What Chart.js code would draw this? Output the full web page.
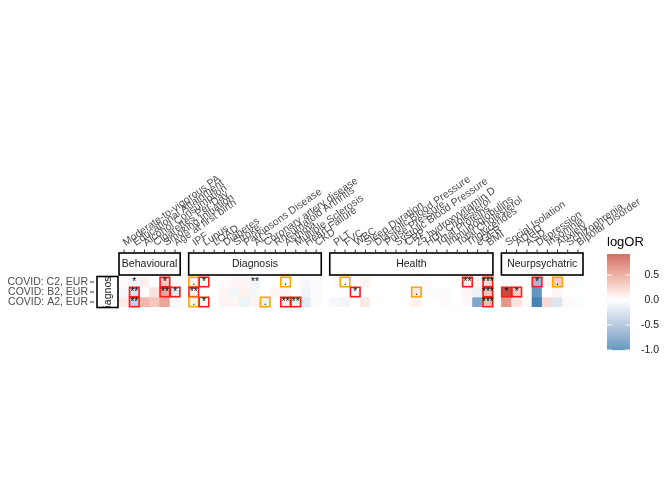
<!DOCTYPE html>
<html><head><meta charset="utf-8">
<script src="https://cdn.jsdelivr.net/npm/chart.js@4.4.0/dist/chart.umd.min.js"></script>
<style>html,body{margin:0;padding:0;background:#fff;}canvas{display:block;}</style>
</head><body>
<canvas id="c" width="672" height="480"></canvas>
<script>
// ---------- data ----------
const behaviouralTraits = ['Moderate-to-vigorous PA','Educational Attainment','Alcohol Consumption','Cigarettes Per Day','Smoking Initiation','Age at first birth'];
const diagnosisTraits = ['IPF','Lupus','LOAD','Diabetes','Stroke','Parkinsons Disease','ALS','Coronary artery disease','Rheumatoid Arthritis','Asthma','Multiple Sclerosis','Heart Failure','CKD'];
const healthTraits = ['PLT','FVC','WBC','Sleep Duration','Diastolic Blood Pressure','Pulse Pressure','Systolic Blood Pressure','CRP','25 hydroxyvitamin D','HDL Cholesterol','Total Proteins','Immunoglobulins','Total Cholesterol','Triglycerides','eGFR','BMI'];
const neuroTraits = ['Social Isolation','ADHD','ASD','Depression','Insomnia','Anxiety','Schizophrenia','Bipolar Disorder'];
const groupNames = ['Behavioural','Diagnosis','Health','Neurpsychatric'];
const rowLabels = ['COVID: C2, EUR','COVID: B2, EUR','COVID: A2, EUR'];
const facetLabel = 'Diagnosis';
const legendTitle = 'logOR';
const legendTicks = [0.5, 0.0, -0.5, -1.0];

// logOR per row (columns: behavioural, diagnosis, health, neuropsychiatric)
const logOR_C2 = [0.02,-0.06,0.08,0.0,0.28,-0.02,
  0.05,0.02,0.0,0.02,0.05,0.05,-0.08,0.0,0.0,0.02,0.0,-0.05,-0.02,
  0.02,-0.03,0.0,0.06,0.0,0.0,0.0,0.0,0.0,0.02,0.0,0.0,0.0,0.08,0.05,0.2,
  0.02,0.03,0.0,-0.55,0.05,0.25,0.02,-0.02];
const logOR_B2 = [-0.05,-0.22,0.0,0.15,0.48,-0.18,
  0.08,0.02,0.0,0.05,-0.06,0.08,-0.06,0.0,0.05,0.05,0.0,-0.08,-0.02,
  0.0,0.0,-0.05,0.0,0.0,0.0,0.0,0.0,0.12,-0.03,-0.03,-0.03,0.0,0.05,-0.1,0.3,
  0.92,0.25,0.0,-0.85,0.0,0.06,0.0,0.0];
const logOR_A2 = [0.1,-0.35,0.38,0.3,0.48,-0.05,
  0.06,0.05,0.0,0.05,0.05,-0.1,0.05,-0.1,0.0,0.08,0.08,-0.15,-0.03,
  -0.05,-0.08,0.0,0.12,0.0,0.0,0.0,0.0,0.08,0.0,0.0,0.02,0.0,0.03,-0.7,0.35,
  0.55,0.15,0.02,-1.0,0.2,-0.2,0.03,-0.02];

// significance labels
const stars_C2 = ['','*','','','*','',
  '.','*','','','','','**','','','.','','','',
  '','.','','','','','','','','','','','','**','','***',
  '','','','*','','.','',''];
const stars_B2 = ['','**','','','**','*',
  '**','','','','','','','','','','','','',
  '','','*','','','','','','.','','','','','','','***',
  '*','*','','','','','',''];
const stars_A2 = ['','**','','','','',
  '.','*','','','','','','.','','**','**','','',
  '','','','','','','','','','','','','','','','***',
  '','','','','','','',''];
// highlight boxes: r = red, o = orange
const box_C2 = ['','','','','r','',
  'o','r','','','','','','','','o','','','',
  '','o','','','','','','','','','','','','r','','r',
  '','','','r','','o','',''];
const box_B2 = ['','r','','','r','r',
  'r','','','','','','','','','','','','',
  '','','r','','','','','','o','','','','','','','r',
  'r','r','','','','','',''];
const box_A2 = ['','r','','','','',
  'o','r','','','','','','o','','r','r','','',
  '','','','','','','','','','','','','','','','r',
  '','','','','','','',''];

// ---------- derived ----------
const groups = [behaviouralTraits, diagnosisTraits, healthTraits, neuroTraits];
const allTraits = groups.flat();
const groupOf = groups.flatMap((g, gi) => g.map(() => gi));
const GAP = 0.833;
const xPos = allTraits.map((t, i) => i + groupOf[i] * GAP);
const values = [logOR_C2, logOR_B2, logOR_A2];
const stars = [stars_C2, stars_B2, stars_A2];
const boxes = [box_C2, box_B2, box_A2];
const nRows = rowLabels.length;

// ---------- colour scale (gradient2 in Lab) ----------
const LOW = '#4682B4', MID = '#FFFFFF', HIGH = '#BF3F35';
function hexToRgb(h){return [parseInt(h.slice(1,3),16),parseInt(h.slice(3,5),16),parseInt(h.slice(5,7),16)];}
function toLab(rgb){
  const [r,g,b]=rgb.map(c=>{c/=255;return c<=0.04045?c/12.92:Math.pow((c+0.055)/1.055,2.4);});
  const X=(r*0.4124+g*0.3576+b*0.1805)/0.95047, Y=r*0.2126+g*0.7152+b*0.0722, Z=(r*0.0193+g*0.1192+b*0.9505)/1.08883;
  const f=t=>t>0.008856?Math.cbrt(t):7.787*t+16/116;
  const fx=f(X),fy=f(Y),fz=f(Z);
  return [116*fy-16,500*(fx-fy),200*(fy-fz)];
}
function fromLab([L,a,b]){
  const fy=(L+16)/116, fx=fy+a/500, fz=fy-b/200;
  const fi=t=>{const t3=t*t*t;return t3>0.008856?t3:(t-16/116)/7.787;};
  const X=fi(fx)*0.95047, Y=fi(fy), Z=fi(fz)*1.08883;
  const r=X*3.2406-Y*1.5372-Z*0.4986, g=-X*0.9689+Y*1.8758+Z*0.0415, bb=X*0.0557-Y*0.2040+Z*1.0570;
  return [r,g,bb].map(c=>{const v=c<=0.0031308?12.92*c:1.055*Math.pow(Math.max(c,0),1/2.4)-0.055;return Math.round(Math.max(0,Math.min(1,v))*255);});
}
const labLow=toLab(hexToRgb(LOW)), labMid=toLab(hexToRgb(MID)), labHigh=toLab(hexToRgb(HIGH));
const allVals = values.flat();
const vMin = Math.min(...allVals), vMax = Math.max(...allVals);
const maxAbs = Math.max(Math.abs(vMin), Math.abs(vMax));
function fillColor(v){
  const t = v / (2*maxAbs) + 0.5;
  let a, b, s;
  if (t < 0.5) { a = labLow; b = labMid; s = t/0.5; } else { a = labMid; b = labHigh; s = (t-0.5)/0.5; }
  const c = fromLab([0,1,2].map(k => a[k] + (b[k]-a[k])*s));
  return `rgb(${c[0]},${c[1]},${c[2]})`;
}

// ---------- overlay drawing ----------
const FONT = '"Liberation Sans", Arial, sans-serif';
const overlay = {
  id: 'overlay',
  afterDatasetsDraw(chart) {
    const {ctx, chartArea: a, scales: {x, y}} = chart;
    const cellL = i => x.getPixelForValue(xPos[i] - 0.5);
    const cellR = i => x.getPixelForValue(xPos[i] + 0.5);
    const cellC = i => x.getPixelForValue(xPos[i]);
    const rowT = r => y.getPixelForValue(nRows - r);
    const rowB = r => y.getPixelForValue(nRows - r - 1);
    ctx.save();
    // highlight boxes
    ctx.lineWidth = 1.6;
    for (let r = 0; r < nRows; r++) {
      boxes[r].forEach((b, i) => {
        if (!b) return;
        ctx.strokeStyle = b === 'r' ? '#FF1A1A' : '#FFA500';
        ctx.strokeRect(cellL(i) + 0.3, rowT(r) + 0.3, cellR(i) - cellL(i) - 0.6, rowB(r) - rowT(r) - 0.6);
      });
    }
    // significance text
    ctx.fillStyle = '#000';
    ctx.font = '10px ' + FONT;
    ctx.textAlign = 'center';
    ctx.textBaseline = 'middle';
    for (let r = 0; r < nRows; r++) {
      stars[r].forEach((s, i) => {
        if (!s) return;
        ctx.fillText(s, cellC(i), (rowT(r) + rowB(r)) / 2);
      });
    }
    // top strips
    let start = 0;
    groups.forEach((g, gi) => {
      const l = cellL(start), rr = cellR(start + g.length - 1);
      const t = a.top - 24, bt = a.top - 2;
      ctx.fillStyle = '#fff';
      ctx.fillRect(l, t, rr - l, bt - t);
      ctx.strokeStyle = '#000';
      ctx.lineWidth = 1.6;
      ctx.strokeRect(l, t, rr - l, bt - t);
      ctx.fillStyle = '#1A1A1A';
      ctx.font = '10.5px ' + FONT;
      ctx.textAlign = 'center';
      ctx.textBaseline = 'middle';
      ctx.fillText(groupNames[gi], (l + rr) / 2, (t + bt) / 2 + 0.5);
      start += g.length;
    });
    // top ticks and rotated labels
    ctx.strokeStyle = '#333';
    ctx.lineWidth = 1;
    allTraits.forEach((t, i) => {
      const cx = cellC(i);
      ctx.beginPath();
      ctx.moveTo(cx, a.top - 27.5); ctx.lineTo(cx, a.top - 24.5);
      ctx.stroke();
    });
    ctx.fillStyle = '#4D4D4D';
    ctx.font = '10.5px ' + FONT;
    ctx.textAlign = 'left';
    ctx.textBaseline = 'middle';
    const ang = -35 * Math.PI / 180;
    allTraits.forEach((t, i) => {
      ctx.save();
      ctx.translate(cellC(i), a.top - 33);
      ctx.rotate(ang);
      ctx.fillText(t, 0, 0);
      ctx.restore();
    });
    // y labels & ticks
    ctx.textAlign = 'right';
    ctx.strokeStyle = '#333';
    rowLabels.forEach((lab, r) => {
      const cy = (rowT(r) + rowB(r)) / 2;
      ctx.fillStyle = '#4D4D4D';
      ctx.fillText(lab, a.left - 31, cy);
      ctx.beginPath();
      ctx.moveTo(a.left - 29, cy); ctx.lineTo(a.left - 25, cy);
      ctx.stroke();
    });
    // left facet strip
    const sl = a.left - 22, sr = a.left - 1, st = a.top - 0.5, sb = a.bottom + 0.5;
    ctx.fillStyle = '#fff';
    ctx.fillRect(sl, st, sr - sl, sb - st);
    ctx.save();
    ctx.beginPath(); ctx.rect(sl, st, sr - sl, sb - st); ctx.clip();
    ctx.translate((sl + sr) / 2, (st + sb) / 2);
    ctx.rotate(-Math.PI / 2);
    ctx.fillStyle = '#1A1A1A';
    ctx.textAlign = 'center';
    ctx.fillText(facetLabel, 0, 0.5);
    ctx.restore();
    ctx.strokeStyle = '#000';
    ctx.lineWidth = 1.6;
    ctx.strokeRect(sl, st, sr - sl, sb - st);
    // legend
    const lx = 607, lw = 23, zeroY = 300, ppu = 50;
    ctx.fillStyle = '#000';
    ctx.font = '13px ' + FONT;
    ctx.textAlign = 'left';
    ctx.textBaseline = 'middle';
    ctx.fillText(legendTitle, lx, 242);
    const topY = zeroY - vMax * ppu, botY = zeroY - vMin * ppu;
    for (let py = topY; py < botY; py += 0.5) {
      const v = (zeroY - (py + 0.25)) / ppu;
      ctx.fillStyle = fillColor(v);
      ctx.fillRect(lx, py, lw, 0.6);
    }
    ctx.strokeStyle = '#fff';
    ctx.lineWidth = 1;
    ctx.font = '10.5px ' + FONT;
    ctx.textAlign = 'right';
    legendTicks.forEach(v => {
      const py = zeroY - v * ppu;
      ctx.beginPath();
      ctx.moveTo(lx, py); ctx.lineTo(lx + 4.6, py);
      ctx.moveTo(lx + lw - 4.6, py); ctx.lineTo(lx + lw, py);
      ctx.stroke();
      ctx.fillStyle = '#222';
      ctx.fillText(v.toFixed(1), 659, py);
    });
    ctx.restore();
  }
};

new Chart(document.getElementById('c'), {
  type: 'bar',
  data: {
    datasets: rowLabels.map((lab, r) => ({
      label: lab,
      data: xPos.map(xv => ({x: xv, y: [nRows - r - 1, nRows - r]})),
      backgroundColor: values[r].map(fillColor),
      borderWidth: 0,
      grouped: false,
      barPercentage: 1,
      categoryPercentage: 1
    }))
  },
  options: {
    responsive: false,
    animation: false,
    layout: {padding: {left: 119, right: 89, top: 277, bottom: 173}},
    plugins: {legend: {display: false}, tooltip: {enabled: false}},
    scales: {
      x: {type: 'linear', offset: false, grid: {offset: false}, min: -0.5, max: allTraits.length - 0.5 + (groups.length - 1) * GAP, display: false},
      y: {type: 'linear', min: 0, max: nRows, display: false}
    }
  },
  plugins: [overlay]
});
</script>
</body></html>
